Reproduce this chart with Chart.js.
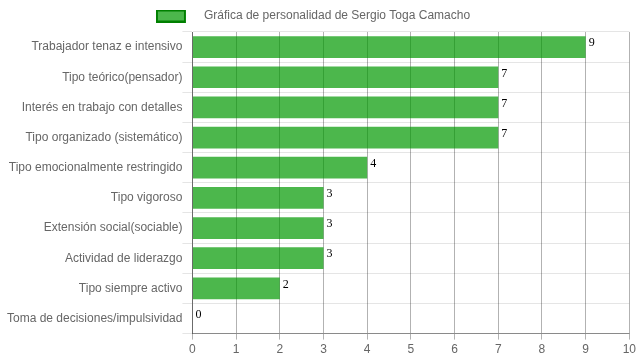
<!DOCTYPE html>
<html>
<head>
<meta charset="utf-8">
<script src="https://cdn.jsdelivr.net/npm/chart.js@4/dist/chart.umd.min.js"></script>
<style>
html,body{margin:0;padding:0;background:#fff;}
#wrap{width:639px;height:360px;position:relative;}
</style>
</head>
<body>
<div id="wrap"><canvas id="c"></canvas></div>
<script>
const categories = [
  "Trabajador tenaz e intensivo",
  "Tipo teórico(pensador)",
  "Interés en trabajo con detalles",
  "Tipo organizado (sistemático)",
  "Tipo emocionalmente restringido",
  "Tipo vigoroso",
  "Extensión social(sociable)",
  "Actividad de liderazgo",
  "Tipo siempre activo",
  "Toma de decisiones/impulsividad"
];
const values = [9, 7, 7, 7, 4, 3, 3, 3, 2, 0];
const seriesName = "Gráfica de personalidad de Sergio Toga Camacho";
const xTicks = [0,1,2,3,4,5,6,7,8,9,10];

const FILL = 'rgba(0,153,0,0.7)';
const STROKE = 'rgba(0,128,0,1)';

Chart.defaults.font.family = "'Liberation Sans', Arial, sans-serif";
Chart.defaults.font.size = 12;
Chart.defaults.color = "#666";

// legend swatch: a 30x13 box with a 2px border at the left of a wider transparent image
const swatch = document.createElement('canvas');
swatch.width = 60; swatch.height = 13;
(function(){
  const g = swatch.getContext('2d');
  g.fillStyle = FILL;
  g.fillRect(1, 1, 28, 11);
  g.strokeStyle = STROKE;
  g.lineWidth = 2;
  g.strokeRect(1, 1, 28, 11);
})();

const valueLabels = {
  id: 'valueLabels',
  afterDatasetsDraw(chart) {
    const ctx = chart.ctx;
    const meta = chart.getDatasetMeta(0);
    ctx.save();
    ctx.font = "12px 'Liberation Serif', 'Times New Roman', serif";
    ctx.fillStyle = "#000";
    ctx.textAlign = "left";
    ctx.textBaseline = "top";
    meta.data.forEach((bar, i) => {
      const h = bar.height;
      ctx.fillText(String(values[i]), bar.x + 3, bar.y - h/2 + 1);
    });
    ctx.restore();
  }
};

new Chart(document.getElementById('c'), {
  type: 'bar',
  data: {
    labels: categories,
    datasets: [{
      label: seriesName,
      data: values,
      backgroundColor: FILL,
      borderColor: STROKE,
      borderWidth: 0
    }]
  },
  options: {
    indexAxis: 'y',
    responsive: true,
    maintainAspectRatio: false,
    animation: false,
    layout: { padding: { left: 7, right: 2, top: 0, bottom: 0 } },
    plugins: {
      legend: {
        labels: {
          usePointStyle: true,
          pointStyleWidth: 24,
          boxHeight: 12,
          padding: 10,
          generateLabels(chart) {
            return [{
              text: seriesName,
              fillStyle: FILL,
              strokeStyle: STROKE,
              lineWidth: 2,
              pointStyle: swatch,
              datasetIndex: 0,
              fontColor: '#666'
            }];
          }
        }
      },
      tooltip: { enabled: false }
    },
    scales: {
      x: {
        min: 0, max: 10,
        ticks: { stepSize: 1, color: '#666' },
        grid: { color: 'rgba(0,0,0,0.3)', tickLength: 6 },
        border: { color: 'rgba(0,0,0,0.4)' }
      },
      y: {
        ticks: { color: '#666', padding: 0 },
        grid: { color: 'rgba(0,0,0,0.1)', offset: true, tickLength: 10 },
        border: { color: 'rgba(0,0,0,0.4)' }
      }
    }
  },
  plugins: [valueLabels]
});
</script>
</body>
</html>
